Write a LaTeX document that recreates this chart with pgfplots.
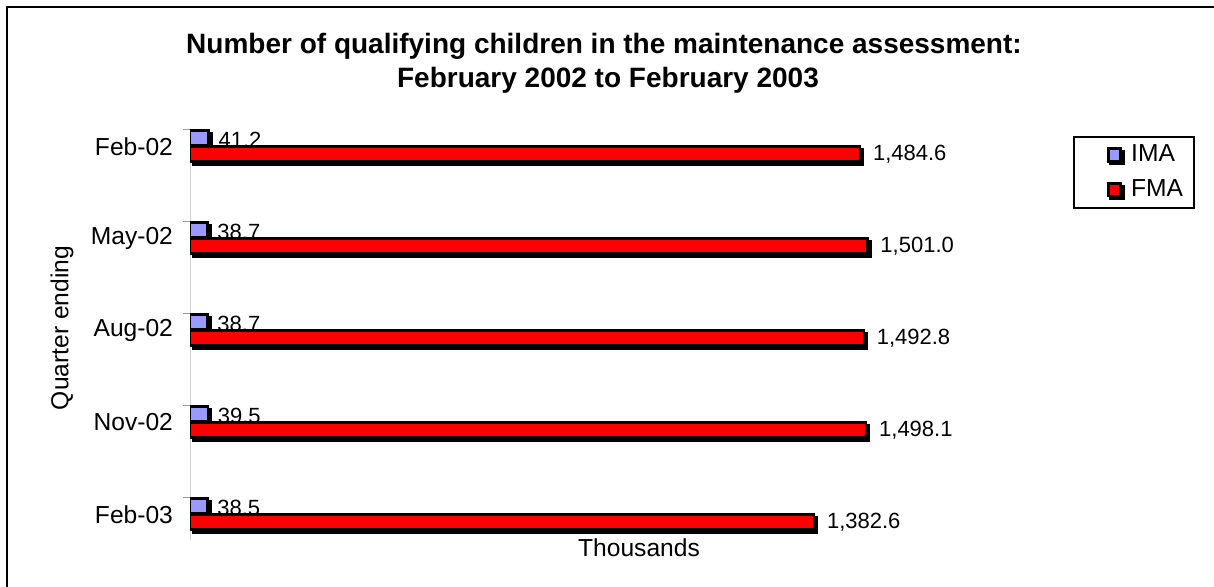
\documentclass[border=0pt]{standalone}
\usepackage{fontspec}
\setmainfont{Liberation Sans}
\usepackage{pgfplots}
\pgfplotsset{compat=1.18}
\definecolor{imablue}{RGB}{153,153,255}
\definecolor{fmared}{RGB}{255,0,0}

% quarter index 0..4 runs downwards (y dir=reverse)
\pgfplotstableread{
x      y
41.2   0.098
38.7   1.098
38.7   2.098
39.5   3.098
38.5   4.098
}\imadata
\pgfplotstableread{
x      y
1484.6 0.27
1501.0 1.27
1492.8 2.27
1498.1 3.27
1382.6 4.27
}\fmadata

% legend swatch: black drop shadow under a black-edged square
\newcommand{\swatch}[1]{%
  \path (-12pt,0pt) (9.8pt,0pt);
  \fill[black] (1.7pt,-4.6pt) rectangle (8.3pt,2.0pt);
  \draw[fill=#1, line width=1.4pt] (0.7pt,-3.1pt) rectangle (6.6pt,3.1pt);}

\begin{document}
\begin{tikzpicture}
\useasboundingbox (0pt,0pt) rectangle (607pt,-293.5pt);
% chart frame
\draw[line width=1pt] (3.5pt,-300pt) -- (3.5pt,-3.5pt) -- (612pt,-3.5pt);

\node[font=\fontsize{14}{17}\selectfont\bfseries] at (302pt,-23pt)
  {Number of qualifying children in the maintenance assessment:};
\node[font=\fontsize{14}{17}\selectfont\bfseries] at (304pt,-40pt)
  {February 2002 to February 2003};

\begin{axis}[
    at={(95pt,-64.5pt)}, anchor=north west,
    scale only axis,
    width=464pt, height=205.5pt,
    xmin=0, xmax=2056,
    ymin=0, ymax=4.467,
    y dir=reverse,
    axis x line*=bottom, axis y line*=left,
    x axis line style={draw=none},
    y axis line style={draw=black!18, line width=0.5pt},
    xtick=\empty,
    ytick={0,1,2,3,4}, yticklabels={},
    tick align=outside,
    major tick length=3.5pt,
    ytick style={draw=black!40, line width=0.5pt},
    extra y ticks={0.19,1.19,2.19,3.19,4.19},
    extra y tick labels={Feb-02,May-02,Aug-02,Nov-02,Feb-03},
    extra y tick style={major tick length=0pt, tick style={draw=none}},
    yticklabel style={font=\fontsize{12.3}{14}\selectfont, xshift=-5pt},
    xbar, bar width=0.16, bar shift=0pt,
    point meta=x,
    nodes near coords={\pgfmathprintnumber[fixed, fixed zerofill, precision=1,
        1000 sep={,}, assume math mode=true]{\pgfplotspointmeta}},
    nodes near coords style={font=\fontsize{11}{13}\selectfont, anchor=west},
    legend style={at={(axis description cs:0.9515,0.983)}, anchor=north west,
        draw=black, line width=1pt, inner xsep=4pt, inner ysep=2.5pt,
        font=\fontsize{12.3}{14}\selectfont, row sep=4.5pt,
        nodes={inner sep=1.5pt}},
    legend cell align=left,
]
% shadows first
\addplot[forget plot, fill=black, draw=black, line width=1.3pt,
    xshift=1.5pt, yshift=-1.5pt, nodes near coords={}] table {\imadata};
\addplot[fill=imablue, draw=black, line width=1.3pt,
    nodes near coords style={xshift=1pt, yshift=-1pt},
    legend image code/.code={\swatch{imablue}}] table {\imadata};
\addlegendentry{IMA}
\addplot[forget plot, fill=black, draw=black, line width=1.3pt,
    xshift=1.5pt, yshift=-1.5pt, nodes near coords={}] table {\fmadata};
\addplot[fill=fmared, draw=black, line width=1.3pt,
    nodes near coords style={xshift=2.5pt},
    legend image code/.code={\swatch{fmared}}] table {\fmadata};
\addlegendentry{FMA}
\end{axis}

\node[font=\fontsize{12.3}{14}\selectfont] at (319.5pt,-274pt) {Thousands};
\node[font=\fontsize{12.3}{14}\selectfont, rotate=90] at (31pt,-164pt) {Quarter ending};
\end{tikzpicture}
\end{document}
